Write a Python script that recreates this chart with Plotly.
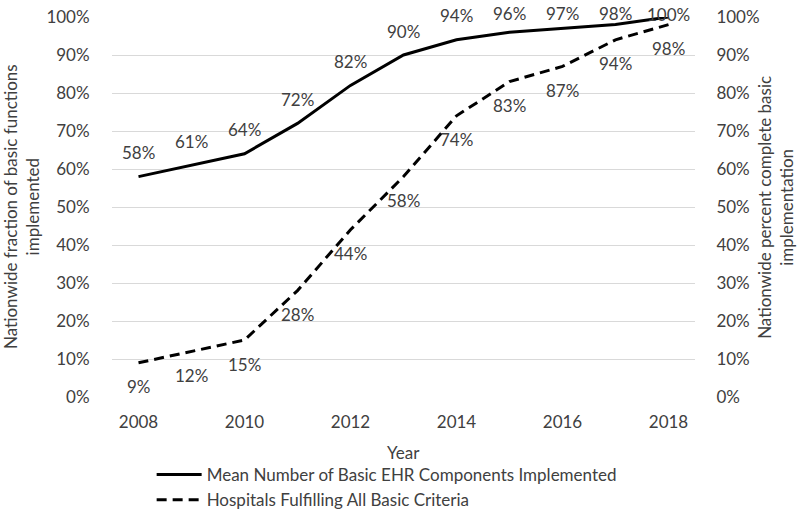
import plotly.graph_objects as go

years = [2008, 2009, 2010, 2011, 2012, 2013, 2014, 2015, 2016, 2017, 2018]
mean_components = [0.58, 0.61, 0.64, 0.72, 0.82, 0.90, 0.94, 0.96, 0.97, 0.98, 1.00]
hospitals_all = [0.09, 0.12, 0.15, 0.28, 0.44, 0.58, 0.74, 0.83, 0.87, 0.94, 0.98]
mean_labels = ["58%", "61%", "64%", "72%", "82%", "90%", "94%", "96%", "97%", "98%", "100%"]
hosp_labels = ["9%", "12%", "15%", "28%", "44%", "58%", "74%", "83%", "87%", "94%", "98%"]

FONT = "Lato"
TXT = "#404040"
FS = 17
PLOT_H = 380  # plot area height in px (515 - 17 - 118)

fig = go.Figure()
fig.add_trace(go.Scatter(
    x=years, y=mean_components, mode="lines",
    name="Mean Number of Basic EHR Components Implemented",
    line=dict(color="black", width=3),
))
fig.add_trace(go.Scatter(
    x=years, y=hospitals_all, mode="lines",
    name="Hospitals Fulfilling All Basic Criteria",
    line=dict(color="black", width=3, dash="10px,6px"),
    yaxis="y2",
))

annotations = []
for x, y, t in zip(years, mean_components, mean_labels):
    shift = min(24, (1 - y) * PLOT_H + 3)
    annotations.append(dict(x=x, y=y, xref="x", yref="y", text=t, showarrow=False,
                            yshift=shift, font=dict(family=FONT, size=FS, color=TXT)))
for x, y, t in zip(years, hospitals_all, hosp_labels):
    annotations.append(dict(x=x, y=y, xref="x", yref="y", text=t, showarrow=False,
                            yshift=-24, font=dict(family=FONT, size=FS, color=TXT)))

annotations.append(dict(x=-0.156, y=0.5, xref="paper", yref="paper", xanchor="center",
                        text="Nationwide fraction of basic functions<br>implemented",
                        textangle=-90, showarrow=False,
                        font=dict(family=FONT, size=FS, color=TXT)))
annotations.append(dict(x=1.137, y=0.5, xref="paper", yref="paper", xanchor="center",
                        text="Nationwide percent complete basic<br>implementation",
                        textangle=-90, showarrow=False,
                        font=dict(family=FONT, size=FS, color=TXT)))
annotations.append(dict(x=0.5, y=-0.145, xref="paper", yref="paper", yanchor="middle",
                        text="Year", showarrow=False,
                        font=dict(family=FONT, size=FS, color=TXT)))

fig.update_layout(
    width=800, height=515,
    margin=dict(l=112, r=105, t=17, b=118, autoexpand=False),
    paper_bgcolor="white", plot_bgcolor="white",
    font=dict(family=FONT, size=FS, color=TXT),
    showlegend=True,
    legend=dict(x=0.068, y=-0.158, xanchor="left", yanchor="top",
                orientation="v", font=dict(family=FONT, size=FS, color=TXT),
                tracegroupgap=0, itemwidth=45, bgcolor="rgba(0,0,0,0)"),
    xaxis=dict(range=[2007.5, 2018.5], tickmode="linear", tick0=2008, dtick=2,
               showgrid=False, zeroline=False, showline=False,
               ticks="outside", ticklen=10, tickcolor="rgba(0,0,0,0)",
               tickfont=dict(family=FONT, size=FS, color=TXT)),
    yaxis=dict(range=[0, 1], dtick=0.1, tickformat=".0%", showgrid=True,
               gridcolor="#d9d9d9", gridwidth=1, zeroline=False, showline=False,
               ticks="outside", ticklen=18, tickcolor="rgba(0,0,0,0)",
               tickfont=dict(family=FONT, size=FS, color=TXT)),
    yaxis2=dict(range=[0, 1], dtick=0.1, tickformat=".0%", overlaying="y", side="right",
                showgrid=False, zeroline=False, showline=False,
                ticks="outside", ticklen=17, tickcolor="rgba(0,0,0,0)",
                tickfont=dict(family=FONT, size=FS, color=TXT)),
    annotations=annotations,
)

fig.write_html("out.html", config={"displayModeBar": False},
               post_script="document.body.style.margin='0px';")
